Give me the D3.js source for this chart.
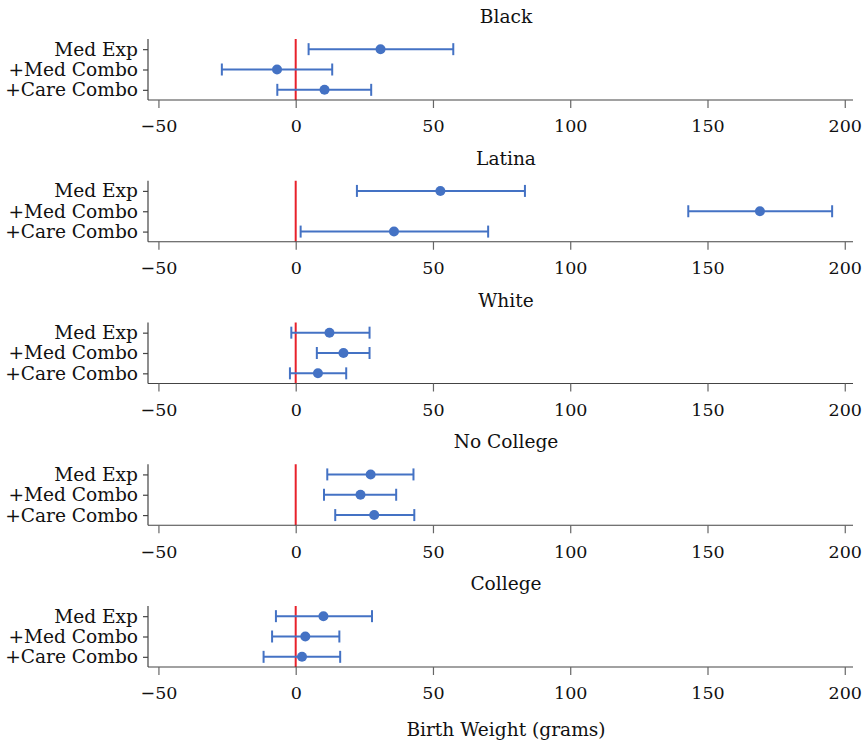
<!DOCTYPE html>
<html>
<head>
<meta charset="utf-8">
<script src="https://cdn.jsdelivr.net/npm/d3@7"></script>
<style>
  body { margin: 0; background: #fff; }
  text { font-family: "DejaVu Serif", serif; fill: #111; }
</style>
</head>
<body>
<script>
// groups shown as separate panels, top to bottom
var groups = ["Black", "Latina", "White", "No College", "College"];
var terms = ["Med Exp", "+Med Combo", "+Care Combo"];

// point estimates, one array per group, in terms order
var estimates = [
    [30.9, -6.8, 10.5],
    [52.7, 169.1, 35.8],
    [12.3, 17.4, 8.1],
    [27.3, 23.6, 28.6],
    [10.1, 3.5, 2.3]
];
var lower = [
    [4.7, -26.9, -6.7],
    [22.3, 143.0, 1.8],
    [-1.6, 7.7, -2.1],
    [11.5, 10.3, 14.4],
    [-7.2, -8.6, -11.7]
];
var upper = [
    [57.4, 13.3, 27.5],
    [83.5, 195.4, 70.1],
    [26.9, 26.9, 18.4],
    [42.9, 36.6, 43.2],
    [27.8, 15.9, 16.2]
];
var xTicks = [-50, 0, 50, 100, 150, 200];

var width = 867, height = 743;
var svg = d3.select("body").append("svg")
    .attr("width", width)
    .attr("height", height);

var x = d3.scaleLinear()
    .domain([-53.8, 203])
    .range([148, 853]);

var panelStep = 141.75;
var blue = "#4472c4";
var labelSize = "18.6px";

groups.forEach(function(name, gi) {
    var top = 39 + gi * panelStep;
    var bottom = 100 + gi * panelStep;
    var g = svg.append("g");

    var y = d3.scalePoint()
        .domain(terms)
        .range([top, bottom])
        .padding(0.5);

    // panel title
    g.append("text")
        .attr("x", 506)
        .attr("y", top - 16)
        .attr("text-anchor", "middle")
        .style("font-size", labelSize)
        .text(name);

    // zero line
    g.append("line")
        .attr("x1", x(0)).attr("x2", x(0))
        .attr("y1", top).attr("y2", bottom)
        .attr("stroke", "#e8212b")
        .attr("stroke-width", 2);

    // x axis
    var xAxis = g.append("g")
        .attr("transform", "translate(0," + bottom + ")")
        .call(d3.axisBottom(x).tickValues(xTicks).tickSize(8).tickPadding(12)
            .tickFormat(function(d) { return d < 0 ? "\u2212" + Math.abs(d) : d; }));
    xAxis.select(".domain").attr("stroke", "#444").attr("stroke-width", 1.2)
        .attr("d", "M148,0H853");
    xAxis.selectAll(".tick line").attr("stroke", "#666").attr("stroke-width", 1.2);
    xAxis.selectAll(".tick text")
        .style("font-size", "17.5px")
        .style("font-family", "DejaVu Serif, serif")
        .attr("fill", "#111");

    // y axis
    var yAxis = g.append("g")
        .attr("transform", "translate(148,0)")
        .call(d3.axisLeft(y).tickSize(5).tickPadding(5));
    yAxis.select(".domain").attr("stroke", "#444").attr("stroke-width", 1.2)
        .attr("d", "M0," + top + "V" + bottom);
    yAxis.selectAll(".tick line").attr("stroke", "#444").attr("stroke-width", 1.2);
    yAxis.selectAll(".tick text")
        .style("font-size", labelSize)
        .style("font-family", "DejaVu Serif, serif")
        .attr("fill", "#111");

    var rows = terms.map(function(t, i) {
        return { term: t, est: estimates[gi][i], lo: lower[gi][i], hi: upper[gi][i] };
    });

    var bars = g.selectAll(".ci")
        .data(rows)
        .enter().append("g")
        .attr("class", "ci");

    bars.append("line")
        .attr("x1", function(d) { return x(d.lo); })
        .attr("x2", function(d) { return x(d.hi); })
        .attr("y1", function(d) { return y(d.term); })
        .attr("y2", function(d) { return y(d.term); })
        .attr("stroke", blue)
        .attr("stroke-width", 2);

    ["lo", "hi"].forEach(function(k) {
        bars.append("line")
            .attr("x1", function(d) { return x(d[k]); })
            .attr("x2", function(d) { return x(d[k]); })
            .attr("y1", function(d) { return y(d.term) - 6; })
            .attr("y2", function(d) { return y(d.term) + 6; })
            .attr("stroke", blue)
            .attr("stroke-width", 2);
    });

    bars.append("circle")
        .attr("cx", function(d) { return x(d.est); })
        .attr("cy", function(d) { return y(d.term); })
        .attr("r", 5)
        .attr("fill", blue);
});

svg.append("text")
    .attr("x", 506)
    .attr("y", 736)
    .attr("text-anchor", "middle")
    .style("font-size", labelSize)
    .text("Birth Weight (grams)");
</script>
</body>
</html>
